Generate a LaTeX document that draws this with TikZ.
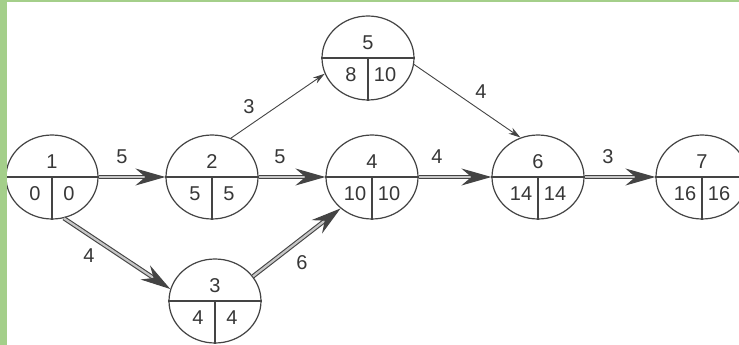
\documentclass[tikz,border=0pt]{standalone}
\usepackage{fontspec}
\setmainfont{Liberation Sans}
\usetikzlibrary{shapes.geometric,arrows.meta}
\definecolor{framegreen}{RGB}{164,207,138}
\definecolor{ink}{RGB}{68,68,68}
\definecolor{txt}{RGB}{55,55,55}
\newcommand{\eventnode}[6]{%
  \node[ev] (#1) at (#2,#3) {};
  \draw[divider] (#1.west) -- (#1.east);
  \draw[divider] (#1.center) -- (#1.south);
  \node[num] (#1t) at (#2,{#3-15}) {#4};
  \node[num] (#1l) at ({#2-17},{#3+17}) {#5};
  \node[num] (#1r) at ({#2+17},{#3+17}) {#6};
}
\begin{document}
\begin{tikzpicture}[x=1pt,y=-1pt,
  ev/.style={ellipse, draw=ink, line width=1.2pt, minimum width=92pt, minimum height=84pt, inner sep=0pt},
  num/.style={text=txt, font=\fontsize{20}{20}\selectfont, inner sep=0pt},
  crit/.style={draw=ink, line width=1.1pt, double=ink!30, double distance=2.2pt,
     -{Stealth[length=30pt,width=17pt,inset=10pt]}},
  thinarrow/.style={draw=ink, line width=0.9pt, -{Stealth[length=12pt,width=7pt]}},
  divider/.style={draw=ink, line width=1.2pt}]
\useasboundingbox (0,0) rectangle (739,345);
\fill[white] (0,0) rectangle (739,345);
% events
\eventnode{n1}{52}{177}{1}{0}{0}
\eventnode{n2}{212}{177}{2}{5}{5}
\eventnode{n4}{372}{177}{4}{10}{10}
\eventnode{n6}{538}{177}{6}{14}{14}
\eventnode{n7}{702}{177}{7}{16}{16}
\eventnode{n5}{368}{58}{5}{8}{10}
\eventnode{n3}{215}{301}{3}{4}{4}
% activities
\draw[crit] (n1.east) -- (n2.west);
\draw[crit] (n2.east) -- (n4.west);
\draw[crit] (n4.east) -- (n6.west);
\draw[crit] (n6.east) -- (n7.west);
\draw[crit] (n1.-74) -- (n3.165);
\draw[crit] (n3.33) -- (n4.225);
\draw[thinarrow] (n2.64) -- (n5.200);
\draw[thinarrow] (n5.-8) -- (n6.114);
% durations
\node[num] (l12) at (122,157) {5};
\node[num] (l24) at (280,157) {5};
\node[num] (l46) at (437,157) {4};
\node[num] (l67) at (608,157) {3};
\node[num] (l13) at (89,256) {4};
\node[num] (l34) at (302,263) {6};
\node[num] (l25) at (249,107) {3};
\node[num] (l56) at (481,92) {4};
% frame
\fill[framegreen] (0,0) rectangle (7,345);
\fill[framegreen] (0,0) rectangle (739,2.5);
\end{tikzpicture}
\end{document}
